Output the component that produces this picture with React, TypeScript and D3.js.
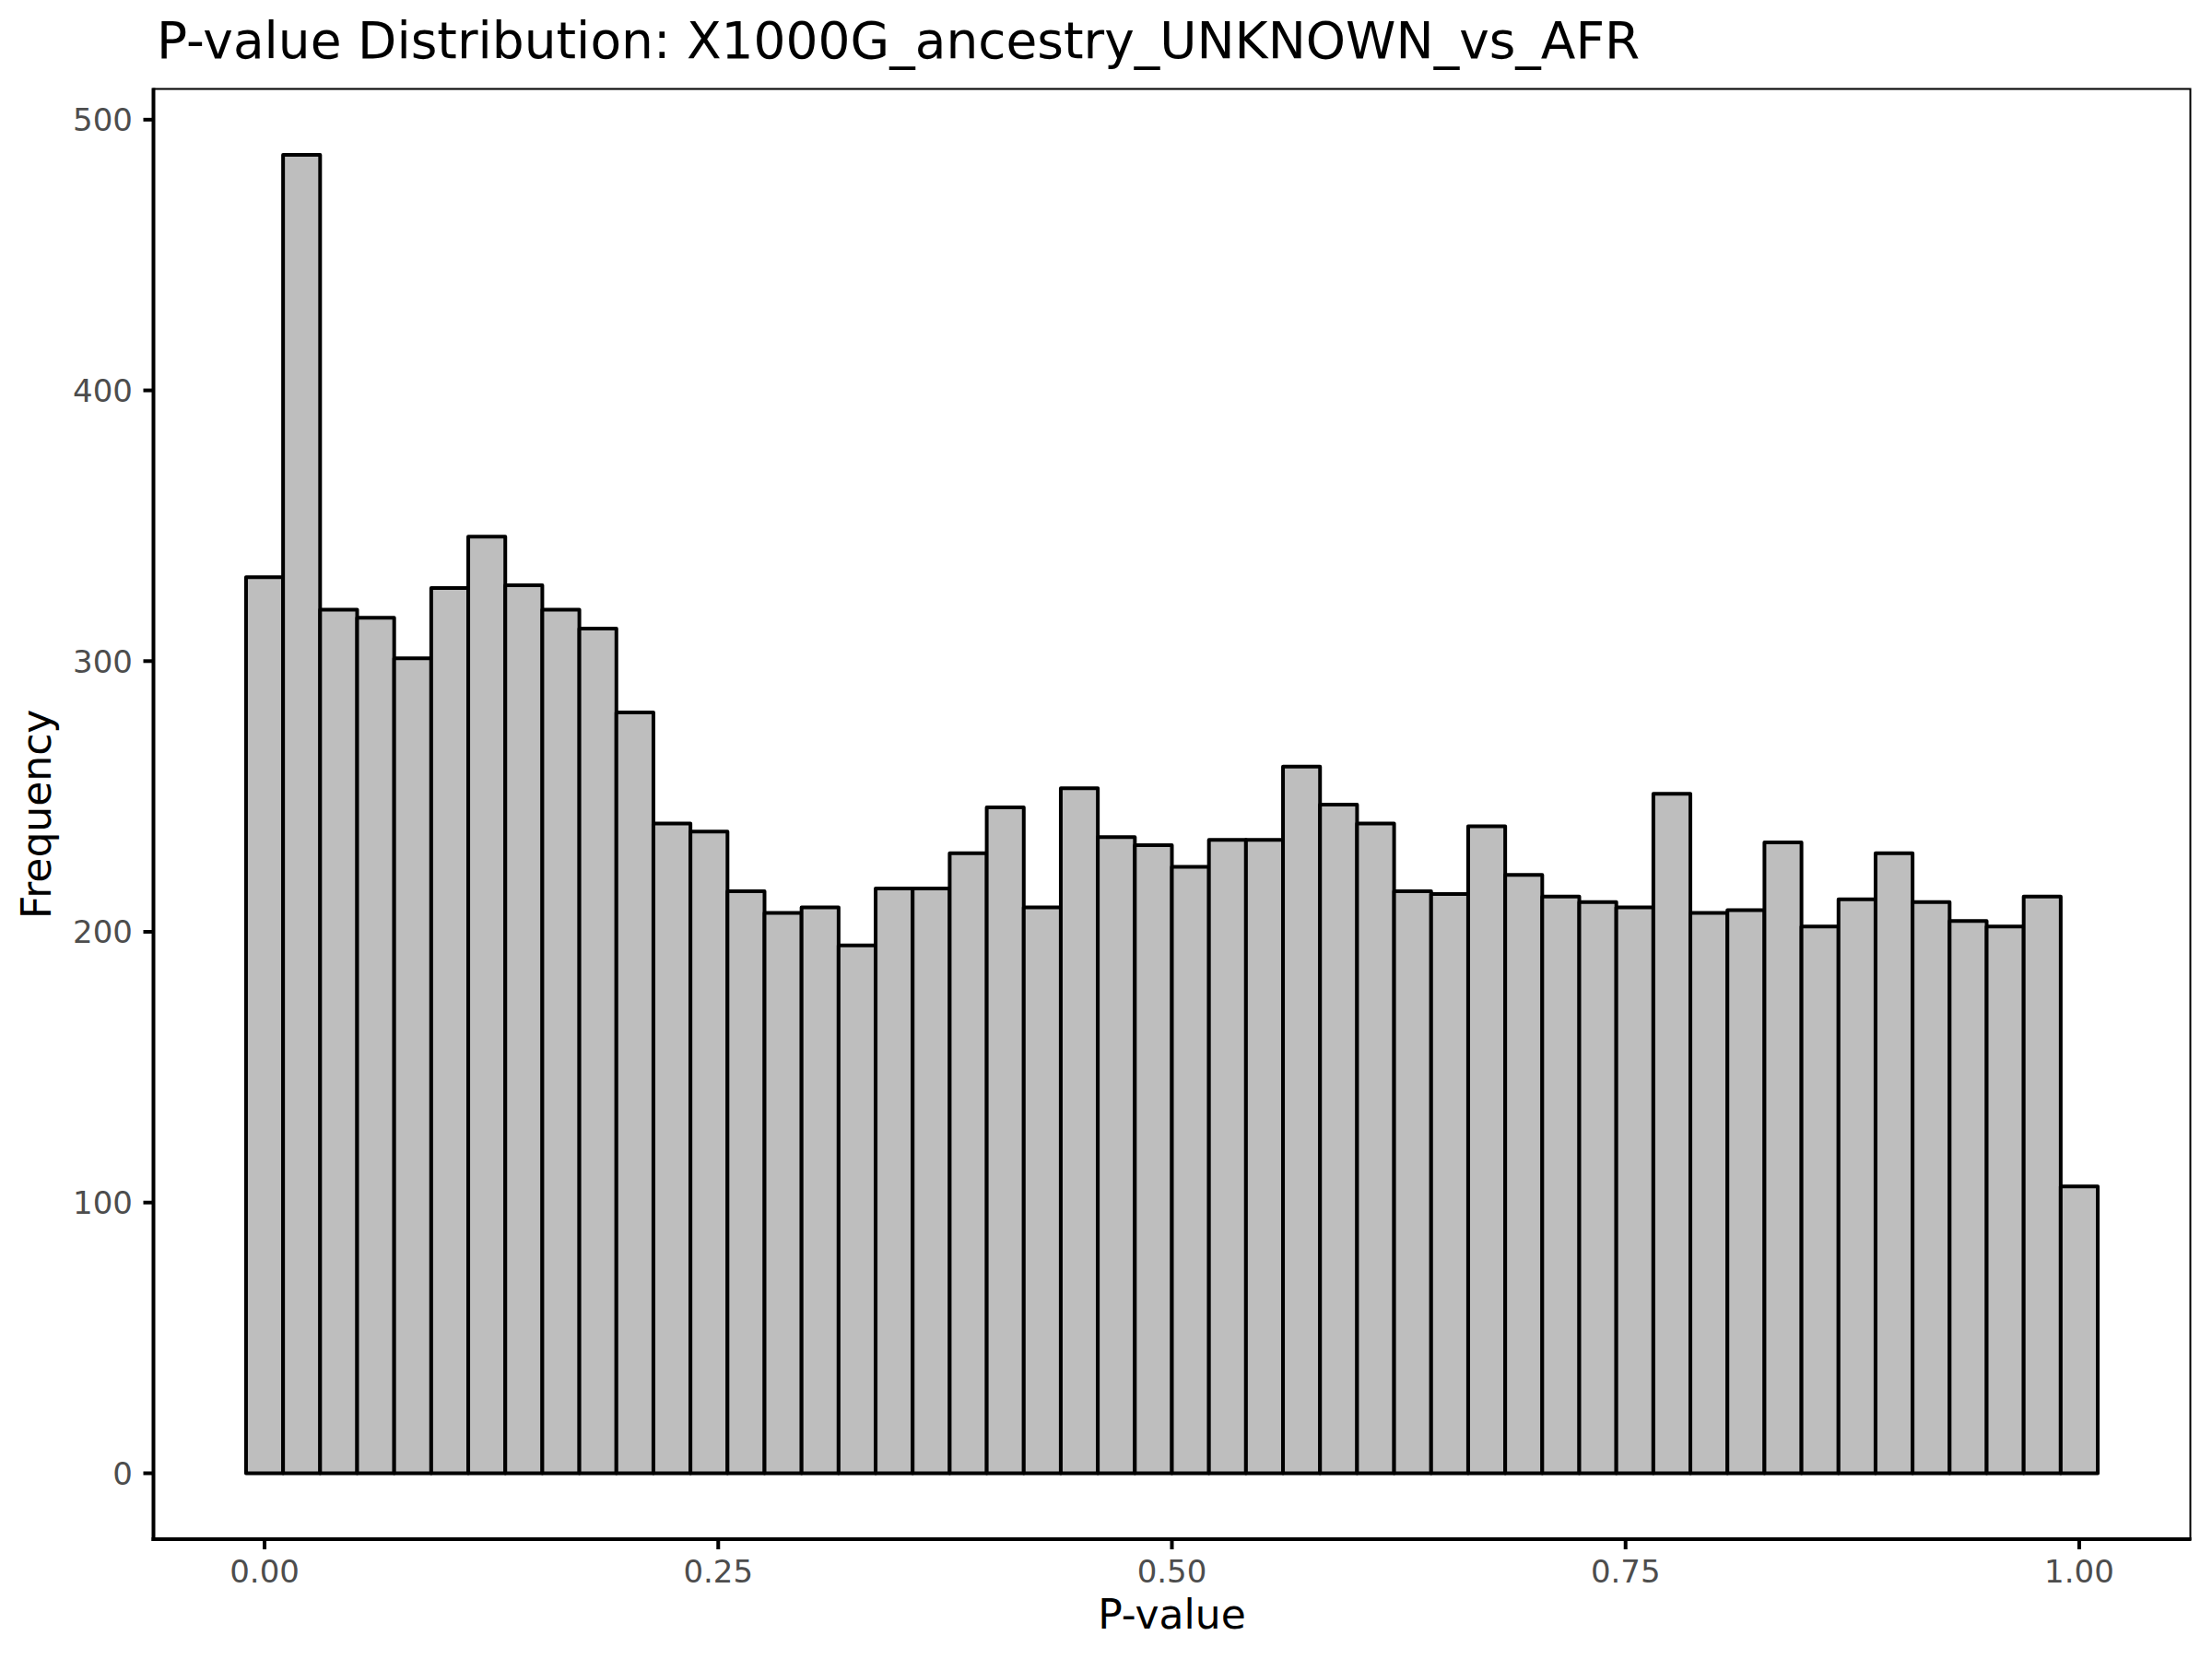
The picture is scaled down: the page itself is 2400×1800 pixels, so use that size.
import React from "react";
import * as d3 from "d3";

const titleText = "P-value Distribution: X1000G_ancestry_UNKNOWN_vs_AFR";
const xTitle = "P-value";
const yTitle = "Frequency";

// histogram counts, 50 bins centred on 0 .. 1 (bin width 1/49)
const counts: number[] = [
  331, 487, 319, 316, 301, 327, 346, 328, 319, 312,
  281, 240, 237, 215, 207, 209, 195, 216, 216, 229,
  246, 209, 253, 235, 232, 224, 234, 234, 261, 247,
  240, 215, 214, 239, 221, 213, 211, 209, 251, 207,
  208, 233, 202, 212, 229, 211, 204, 202, 213, 106,
];
const xTicks: number[] = [0, 0.25, 0.5, 0.75, 1];
const xTickLabels: string[] = ["0.00", "0.25", "0.50", "0.75", "1.00"];
const yTicks: number[] = [0, 100, 200, 300, 400, 500];

const W = 2400;
const H = 1800;
const panel = { left: 166.5, right: 2376.5, top: 96.5, bottom: 1670 };
const font = "'DejaVu Sans', 'Liberation Sans', sans-serif";

export default function App() {
  const nBins = counts.length;
  const binWidth = 1 / (nBins - 1);
  const bins = counts.map((c, i) => ({
    x0: i * binWidth - binWidth / 2,
    x1: i * binWidth + binWidth / 2,
    count: c,
  }));
  const dataMin = bins[0].x0;
  const dataMax = bins[bins.length - 1].x1;
  const xSpan = dataMax - dataMin;
  const x = d3
    .scaleLinear()
    .domain([dataMin - 0.05 * xSpan, dataMax + 0.05 * xSpan])
    .range([panel.left, panel.right]);
  const yMax = d3.max(counts) as number;
  const y = d3
    .scaleLinear()
    .domain([-0.05 * yMax, yMax * 1.05])
    .range([panel.bottom, panel.top]);

  const cx = (panel.left + panel.right) / 2;
  const cy = (panel.top + panel.bottom) / 2;

  return (
    <div style={{ position: "absolute", left: 0, top: 0 }}>
      <svg width={W} height={H} viewBox={`0 0 ${W} ${H}`} style={{ display: "block", background: "#fff" }}>
        <rect x={0} y={0} width={W} height={H} fill="#ffffff" />
        <text x={170} y={63} fontFamily={font} fontSize={55} fill="#000">
          {titleText}
        </text>
        {/* bars */}
        <g>
          {bins.map((b, i) => (
            <rect
              key={i}
              x={x(b.x0)}
              y={y(b.count)}
              width={x(b.x1) - x(b.x0)}
              height={y(0) - y(b.count)}
              fill="#BEBEBE"
              stroke="#000"
              strokeWidth={4}
              strokeLinejoin="round"
            />
          ))}
        </g>
        {/* panel border */}
        <rect
          x={panel.left}
          y={panel.top}
          width={panel.right - panel.left}
          height={panel.bottom - panel.top}
          fill="none"
          stroke="#000"
          strokeWidth={2}
        />
        {/* axis lines */}
        <line x1={panel.left} x2={panel.left} y1={panel.top - 1} y2={panel.bottom + 2} stroke="#000" strokeWidth={4} />
        <line x1={panel.left - 2} x2={panel.right + 1} y1={panel.bottom} y2={panel.bottom} stroke="#000" strokeWidth={4} />
        {/* y ticks */}
        {yTicks.map((t) => (
          <g key={"y" + t}>
            <line x1={panel.left - 11} x2={panel.left} y1={y(t)} y2={y(t)} stroke="#000" strokeWidth={4} />
            <text
              x={144}
              y={y(t)}
              dy="0.36em"
              textAnchor="end"
              fontFamily={font}
              fontSize={34}
              fill="#4D4D4D"
            >
              {String(t)}
            </text>
          </g>
        ))}
        {/* x ticks */}
        {xTicks.map((t, i) => (
          <g key={"x" + t}>
            <line x1={x(t)} x2={x(t)} y1={panel.bottom} y2={panel.bottom + 11} stroke="#000" strokeWidth={4} />
            <text
              x={x(t)}
              y={1716.5}
              textAnchor="middle"
              fontFamily={font}
              fontSize={34}
              fill="#4D4D4D"
            >
              {xTickLabels[i]}
            </text>
          </g>
        ))}
        <text x={cx} y={1766.5} textAnchor="middle" fontFamily={font} fontSize={44} fill="#000">
          {xTitle}
        </text>
        <text
          transform={`translate(55, ${cy}) rotate(-90)`}
          textAnchor="middle"
          fontFamily={font}
          fontSize={44}
          fill="#000"
        >
          {yTitle}
        </text>
      </svg>
    </div>
  );
}
